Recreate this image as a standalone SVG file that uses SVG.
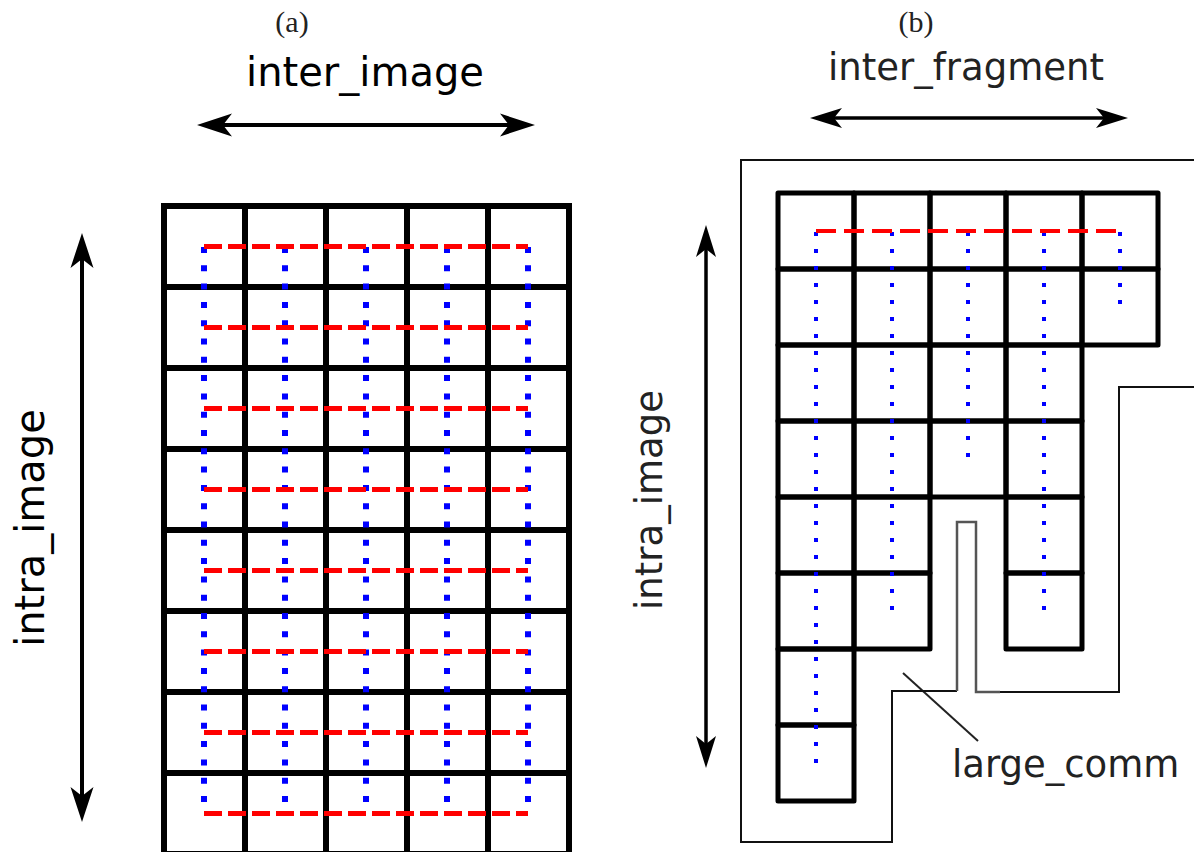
<svg xmlns="http://www.w3.org/2000/svg" width="1194" height="852" viewBox="0 0 1194 852">
<style>
  .cellA { fill: none; stroke: #000; stroke-width: 6; }
  .cellB { fill: none; stroke: #000; stroke-width: 5; stroke-linejoin: round; }
  .redA { stroke: #ff0000; stroke-width: 5; stroke-dasharray: 18 6; fill: none; }
  .blueA { stroke: #0000ff; stroke-width: 6; stroke-dasharray: 6 12.3; fill: none; }
  .redB { stroke: #ff0000; stroke-width: 4; stroke-dasharray: 20 8; fill: none; }
  .blueB { stroke: #0000ff; stroke-width: 4; stroke-dasharray: 4 13; fill: none; }
  .sans { font-family: "DejaVu Sans", "Liberation Sans", sans-serif; }
  .serif { font-family: "Liberation Serif", "DejaVu Serif", serif; fill: #222; }
  .arrowline { stroke: #000; fill: none; }
  .head { fill: #000; }
</style>
<rect width="1194" height="852" fill="#fff"/>

<!-- Panel (a) -->
<g id="label-a"><text class="serif" x="292" y="32" font-size="30" text-anchor="middle">(a)</text></g>
<g id="label-inter-image"><text class="sans" x="365" y="86" font-size="40" text-anchor="middle" fill="#000">inter_image</text></g>
<g id="label-intra-image-a"><text class="sans" transform="translate(44,528) rotate(-90)" font-size="40" text-anchor="middle" fill="#000">intra_image</text></g>

<g id="grid-a">
  <rect class="cellA" x="164" y="206" width="405" height="648"/>
  <path class="cellA" d="M245,206V854M326,206V854M407,206V854M488,206V854
    M164,287H569M164,368H569M164,449H569M164,530H569M164,611H569M164,692H569M164,773H569"/>
</g>

<g id="paths-a">
  <path class="blueA" d="M204,247V814M285,247V814M366,247V814M447,247V814M528,247V814"/>
  <path class="redA" d="M204,246.5H528M204,327.5H528M204,408.5H528M204,489.5H528M204,570.5H528M204,651.5H528M204,732.5H528M204,813.5H528"/>
</g>

<g id="connectors">
  <path class="arrowline" stroke-width="4" d="M215,125H517"/>
  <path class="head" d="M197,125L232,113.5L223,125L232,136.5Z"/>
  <path class="head" d="M535,125L500,113.5L509,125L500,136.5Z"/>
  <path class="arrowline" stroke-width="4" d="M82,250V805"/>
  <path class="head" d="M82,233L70.5,268L82,259L93.5,268Z"/>
  <path class="head" d="M82,822L70.5,787L82,796L93.5,787Z"/>
  <path class="arrowline" stroke-width="3.5" d="M825,118H1113"/>
  <path class="head" d="M810,118L842,108L834,118L842,128Z"/>
  <path class="head" d="M1128,118L1096,108L1104,118L1096,128Z"/>
  <path class="arrowline" stroke-width="3.5" d="M706,240V753"/>
  <path class="head" d="M706,225L696,257L706,249L716,257Z"/>
  <path class="head" d="M706,768L696,736L706,744L716,736Z"/>
  <path stroke="#222" stroke-width="2" fill="none" d="M903,673L978,741"/>
</g>

<!-- Panel (b) -->
<g id="label-b"><text class="serif" x="916" y="32" font-size="30" text-anchor="middle">(b)</text></g>
<g id="label-inter-fragment"><text class="sans" x="966" y="80" font-size="37" text-anchor="middle" fill="#222">inter_fragment</text></g>
<g id="label-intra-image-b"><text class="sans" transform="translate(662,500) rotate(-90)" font-size="37" text-anchor="middle" fill="#222">intra_image</text></g>
<g id="label-large-comm"><text class="sans" x="952" y="777" font-size="37" fill="#222">large_comm</text></g>

<g id="outline-b">
  <path fill="none" stroke="#111" stroke-width="2" d="M1194,160H741V842H892V691H957"/>
  <path fill="none" stroke="#555" stroke-width="2.5" d="M957,691V522H976V692H1000"/>
  <path fill="none" stroke="#111" stroke-width="2" d="M1000,692H1119V387H1194"/>
</g>

<g id="grid-b">
  <rect class="cellB" x="778" y="193" width="76" height="76"/>
  <rect class="cellB" x="854" y="193" width="76" height="76"/>
  <rect class="cellB" x="930" y="193" width="76" height="76"/>
  <rect class="cellB" x="1006" y="193" width="76" height="76"/>
  <rect class="cellB" x="1082" y="193" width="76" height="76"/>
  <rect class="cellB" x="778" y="269" width="76" height="76"/>
  <rect class="cellB" x="854" y="269" width="76" height="76"/>
  <rect class="cellB" x="930" y="269" width="76" height="76"/>
  <rect class="cellB" x="1006" y="269" width="76" height="76"/>
  <rect class="cellB" x="1082" y="269" width="76" height="76"/>
  <rect class="cellB" x="778" y="345" width="76" height="76"/>
  <rect class="cellB" x="854" y="345" width="76" height="76"/>
  <rect class="cellB" x="930" y="345" width="76" height="76"/>
  <rect class="cellB" x="1006" y="345" width="76" height="76"/>
  <rect class="cellB" x="778" y="421" width="76" height="76"/>
  <rect class="cellB" x="854" y="421" width="76" height="76"/>
  <rect class="cellB" x="930" y="421" width="76" height="76"/>
  <rect class="cellB" x="1006" y="421" width="76" height="76"/>
  <rect class="cellB" x="778" y="497" width="76" height="76"/>
  <rect class="cellB" x="854" y="497" width="76" height="76"/>
  <rect class="cellB" x="1006" y="497" width="76" height="76"/>
  <rect class="cellB" x="778" y="573" width="76" height="76"/>
  <rect class="cellB" x="854" y="573" width="76" height="76"/>
  <rect class="cellB" x="1006" y="573" width="76" height="76"/>
  <rect class="cellB" x="778" y="649" width="76" height="76"/>
  <rect class="cellB" x="778" y="725" width="76" height="76"/>
</g>

<g id="paths-b">
  <path class="blueB" d="M816,232V763M892,232V611M968,232V458M1044,232V611M1120,232V305"/>
  <path class="redB" d="M816,231H1120"/>
</g>
</svg>
